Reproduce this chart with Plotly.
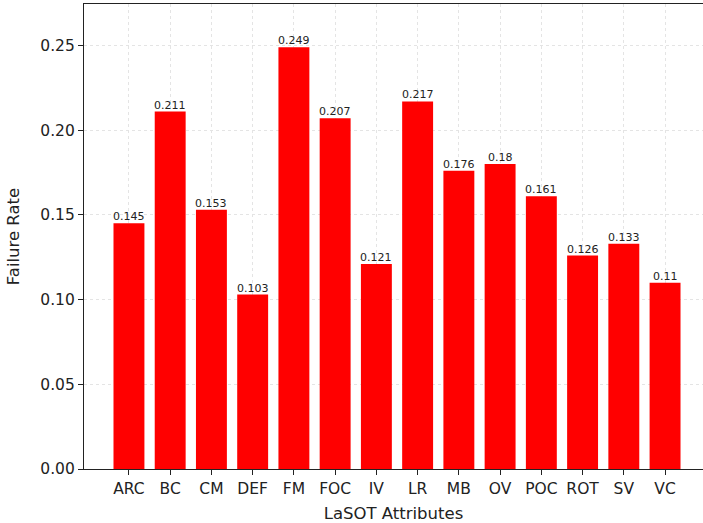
import plotly.graph_objects as go

categories = ["ARC", "BC", "CM", "DEF", "FM", "FOC", "IV", "LR", "MB", "OV", "POC", "ROT", "SV", "VC"]
failure_rate = [0.145, 0.211, 0.153, 0.103, 0.249, 0.207, 0.121, 0.217, 0.176, 0.18, 0.161, 0.126, 0.133, 0.11]
y_ticks = [0.0, 0.05, 0.10, 0.15, 0.20, 0.25]
y_tick_labels = ["0.00", "0.05", "0.10", "0.15", "0.20", "0.25"]

font_family = "DejaVu Sans"
xs = list(range(len(categories)))

fig = go.Figure(
    go.Bar(
        x=xs,
        y=failure_rate,
        width=0.75,
        marker=dict(color="#ff0000", line=dict(width=0)),
        hoverinfo="skip",
    )
)

for xi, v in zip(xs, failure_rate):
    fig.add_annotation(
        x=xi, y=v, text=str(v), showarrow=False,
        xanchor="center", yanchor="bottom", yshift=-2,
        font=dict(family=font_family, size=11, color="#222222"),
    )

fig.update_layout(
    width=703,
    height=523,
    margin=dict(l=84, r=0, t=4, b=54),
    paper_bgcolor="white",
    plot_bgcolor="white",
    showlegend=False,
    font=dict(family=font_family, size=15, color="#222222"),
)

fig.update_xaxes(
    range=[-1.09, 13.92],
    tickmode="array",
    tickvals=xs,
    ticktext=categories,
    ticks="outside",
    ticklen=5,
    tickcolor="#222222",
    showline=True,
    linecolor="#222222",
    linewidth=1.2,
    mirror=True,
    showgrid=True,
    gridcolor="#e4e4e4",
    griddash="dot",
    gridwidth=1.2,
    zeroline=False,
    title=dict(text="LaSOT Attributes", standoff=10, font=dict(size=16.5)),
    tickfont=dict(size=15.5),
)

fig.update_yaxes(
    range=[0, 0.2745],
    tickmode="array",
    tickvals=y_ticks,
    ticktext=y_tick_labels,
    ticks="outside",
    ticklen=5,
    tickcolor="#222222",
    showline=True,
    linecolor="#222222",
    linewidth=1.2,
    mirror=False,
    showgrid=True,
    gridcolor="#e4e4e4",
    griddash="dot",
    gridwidth=1.2,
    zeroline=False,
    title=dict(text="Failure Rate", standoff=16, font=dict(size=16.5)),
    tickfont=dict(size=15.5),
)

fig.write_html(
    "out.html",
    config={"displayModeBar": False},
    post_script="document.body.style.margin='0px';document.body.style.overflow='hidden';",
)
